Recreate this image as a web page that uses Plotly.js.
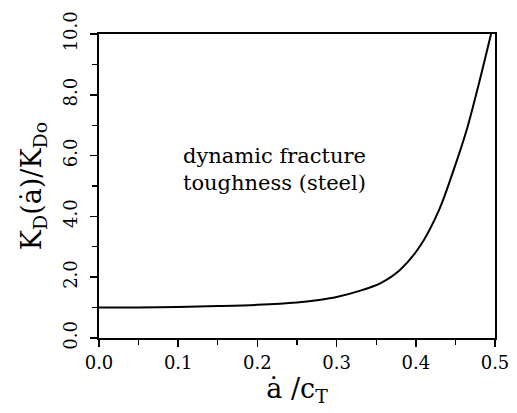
<!DOCTYPE html>
<html>
<head>
<meta charset="utf-8">
<script src="https://cdn.plot.ly/plotly-3.0.1.min.js"></script>
<style>html,body{margin:0;padding:0;background:#fff;}#chart{width:517px;height:413px;}</style>
</head>
<body>
<div id="chart"></div>
<script>
const speedRatio = [0, 0.05, 0.10, 0.15, 0.20, 0.25, 0.28, 0.30, 0.33, 0.355, 0.38, 0.405, 0.43, 0.4474, 0.4643, 0.479, 0.495];
const toughnessRatio = [1.0, 1.0, 1.02, 1.05, 1.09, 1.17, 1.26, 1.35, 1.56, 1.80, 2.24, 3.01, 4.25, 5.5, 6.85, 8.3, 10.0];
const xTickVals = [0, 0.1, 0.2, 0.3, 0.4, 0.5];
const xTickText = ["0.0", "0.1", "0.2", "0.3", "0.4", "0.5"];
const yTickVals = [0, 2, 4, 6, 8, 10];
const yTickText = ["0.0", "2.0", "4.0", "6.0", "8.0", "10.0"];
const annotationText = "dynamic fracture<br>toughness (steel)";

const font = "'DejaVu Serif', 'Liberation Serif', serif";
const trace = {
  x: speedRatio, y: toughnessRatio, type: "scatter", mode: "lines",
  line: {color: "#000", width: 2, shape: "spline", smoothing: 0.8},
  cliponaxis: true, hoverinfo: "skip"
};
const layout = {
  width: 517, height: 413,
  margin: {l: 99, r: 22, t: 34, b: 75},
  paper_bgcolor: "#fff", plot_bgcolor: "#fff",
  showlegend: false,
  font: {family: font, color: "#000", size: 18},
  xaxis: {
    range: [0, 0.5], tickvals: xTickVals, ticktext: xTickText,
    ticks: "outside", ticklen: 7, tickwidth: 1.5, tickcolor: "#000",
    minor: {dtick: 0.05, ticks: "outside", ticklen: 5, tickwidth: 1.2, tickcolor: "#000", showgrid: false},
    showline: true, linecolor: "#000", linewidth: 2, mirror: true,
    showgrid: false, zeroline: false,
    tickfont: {family: font, size: 18},
    title: {text: "ȧ /c<sub>T</sub>", font: {family: font, size: 27}, standoff: 4}
  },
  yaxis: {
    range: [0, 10], tickvals: yTickVals, ticktext: yTickText, tickangle: -90,
    ticks: "outside", ticklen: 7, tickwidth: 1.5, tickcolor: "#000",
    ticklabelstandoff: 6,
    minor: {dtick: 1, ticks: "outside", ticklen: 5, tickwidth: 1.2, tickcolor: "#000", showgrid: false},
    showline: true, linecolor: "#000", linewidth: 2, mirror: true,
    showgrid: false, zeroline: false,
    tickfont: {family: font, size: 18},
    title: {text: "K<sub>D</sub>(ȧ)/K<sub>Do</sub>", font: {family: font, size: 27}, standoff: 10}
  },
  annotations: [{
    x: 0.221, y: 5.55, xref: "x", yref: "y", text: annotationText,
    showarrow: false, align: "left", font: {family: font, size: 21, color: "#000"}
  }]
};
Plotly.newPlot("chart", [trace], layout, {staticPlot: true, displayModeBar: false});
</script>
</body>
</html>
